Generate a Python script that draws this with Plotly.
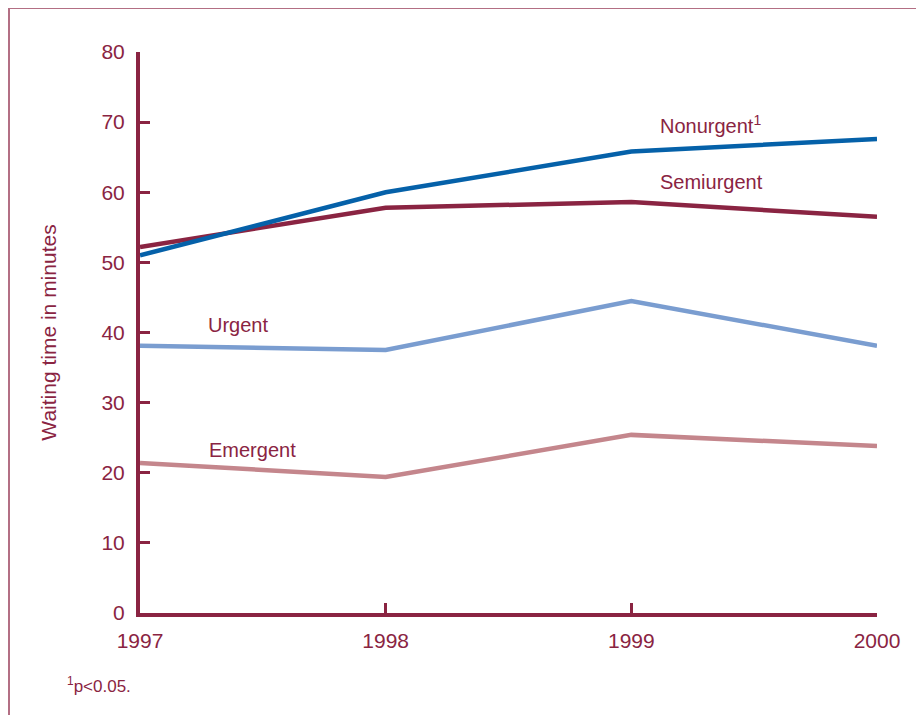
import plotly.graph_objects as go

# Waiting time to see a physician, by triage level
years = [1997, 1998, 1999, 2000]
nonurgent = [51.0, 60.0, 65.8, 67.6]
semiurgent = [52.2, 57.8, 58.6, 56.5]
urgent = [38.1, 37.5, 44.5, 38.1]
emergent = [21.4, 19.4, 25.4, 23.8]

y_ticks = [0, 10, 20, 30, 40, 50, 60, 70, 80]

COLORS = {
    'nonurgent': '#0561a9',
    'semiurgent': '#8a2442',
    'urgent': '#7a9dd0',
    'emergent': '#c4868c',
    'text': '#8a2442',
    'frame': '#b36f84',
}

FONT = 'Liberation Sans, Arial, Helvetica, sans-serif'

# page has an 8px body margin, so the figure is sized and offset for it
W, H = 916, 707
L, R, T, B = 132, 47, 44, 102
PW, PH = W - L - R, H - T - B


def px(fx):
    return (fx - L) / PW


def py(fy):
    return (H - B - fy) / PH


fig = go.Figure()

for name, vals in [('Emergent', emergent), ('Urgent', urgent),
                   ('Semiurgent', semiurgent), ('Nonurgent', nonurgent)]:
    fig.add_trace(go.Scatter(
        x=years, y=vals, mode='lines', name=name,
        line=dict(color=COLORS[name.lower()], width=4.5),
        showlegend=False,
    ))

# series labels placed next to the lines
labels = [
    ('Nonurgent<sup>1</sup>', 1999.109, 69.6),
    ('Semiurgent', 1999.109, 61.5),
    ('Urgent', 1997.269, 41.1),
    ('Emergent', 1997.273, 23.3),
]
for text, x, y in labels:
    fig.add_annotation(x=x, y=y, text=text, showarrow=False,
                       xanchor='left', yanchor='middle',
                       font=dict(size=20, color=COLORS['text'], family=FONT))

# footnote
fig.add_annotation(x=px(57), y=py(677), xref='paper', yref='paper',
                   text='<sup>1</sup>p<0.05.', showarrow=False,
                   xanchor='left', yanchor='middle',
                   font=dict(size=17, color=COLORS['text'], family=FONT))

# outer frame: top and left rules
fig.add_shape(type='line', xref='paper', yref='paper',
              x0=px(1), x1=px(W + 5), y0=py(0), y1=py(0),
              line=dict(color=COLORS['frame'], width=2))
fig.add_shape(type='line', xref='paper', yref='paper',
              x0=px(1), x1=px(1), y0=py(0), y1=py(H + 5),
              line=dict(color=COLORS['frame'], width=2))

fig.update_layout(
    width=W, height=H,
    margin=dict(l=L, r=R, t=T, b=B),
    paper_bgcolor='white', plot_bgcolor='white',
    font=dict(family=FONT, color=COLORS['text'], size=20),
    xaxis=dict(
        range=[1997, 2000], tickvals=years, ticktext=[str(y) for y in years],
        showgrid=False, zeroline=False, showline=True,
        linecolor=COLORS['text'], linewidth=4,
        ticks='inside', ticklen=10, tickwidth=3, tickcolor=COLORS['text'],
        ticklabelstandoff=6,
        tickfont=dict(size=21, color=COLORS['text']),
    ),
    yaxis=dict(
        range=[0, 80], tickvals=y_ticks,
        showgrid=False, zeroline=False, showline=True,
        linecolor=COLORS['text'], linewidth=4,
        ticks='inside', ticklen=10, tickwidth=3, tickcolor=COLORS['text'],
        ticklabelstandoff=7,
        tickfont=dict(size=21, color=COLORS['text']),
        title=dict(text='Waiting time in minutes', standoff=40,
                   font=dict(size=21, color=COLORS['text'])),
    ),
)

fig.write_html('out.html')
